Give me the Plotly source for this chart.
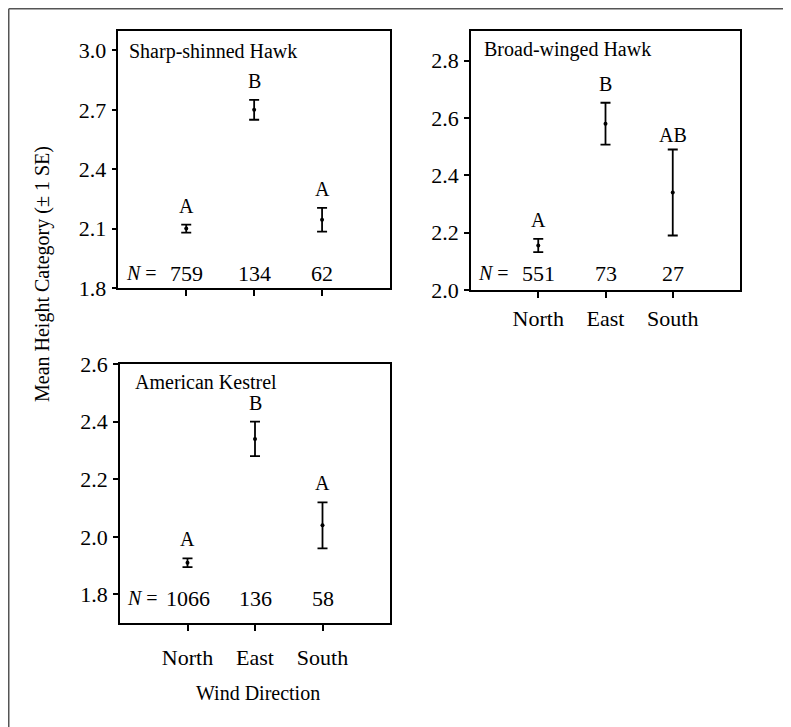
import plotly.graph_objects as go

# ---------------- data ----------------
directions = ["North", "East", "South"]

species = ["Sharp-shinned Hawk", "Broad-winged Hawk", "American Kestrel"]

ssh_mean = [2.10, 2.70, 2.145]
ssh_se = [0.02, 0.05, 0.06]
ssh_n = [759, 134, 62]
ssh_letters = ["A", "B", "A"]

bwh_mean = [2.155, 2.58, 2.34]
bwh_se = [0.023, 0.073, 0.15]
bwh_n = [551, 73, 27]
bwh_letters = ["A", "B", "AB"]

ak_mean = [1.91, 2.34, 2.04]
ak_se = [0.015, 0.06, 0.08]
ak_n = [1066, 136, 58]
ak_letters = ["A", "B", "A"]

ssh_ticks = [1.8, 2.1, 2.4, 2.7, 3.0]
bwh_ticks = [2.0, 2.2, 2.4, 2.6, 2.8]
ak_ticks = [1.8, 2.0, 2.2, 2.4, 2.6]

# ---------------- layout / style ----------------
W, H = 791, 727
OFF = 8  # page body margin
FONT = "Liberation Serif"
FS = 20
FS_NUM = 22


def fx(p):
    return (p - OFF) / W


def fy(p):
    return 1 - (p - OFF) / H


def px_x(a, b):
    return [fx(a), fx(b)]


def px_y(top, bottom):
    return [fy(bottom), fy(top)]


panels = [
    dict(name=species[0], mean=ssh_mean, se=ssh_se, n=ssh_n, letters=ssh_letters,
         ticks=ssh_ticks, yrange=[1.8, 3.1], xdom=px_x(118.3, 390), ydom=px_y(30.7, 288),
         xlabels=False, nrow=0.057, title_pos=(0.031, 0.918), standoff=2),
    dict(name=species[1], mean=bwh_mean, se=bwh_se, n=bwh_n, letters=bwh_letters,
         ticks=bwh_ticks, yrange=[2.0, 2.905], xdom=px_x(471, 740), ydom=px_y(30.5, 290),
         xlabels=True, nrow=0.064, title_pos=(0.04, 0.925), standoff=2),
    dict(name=species[2], mean=ak_mean, se=ak_se, n=ak_n, letters=ak_letters,
         ticks=ak_ticks, yrange=[1.7, 2.6], xdom=px_x(120, 390), ydom=px_y(364, 623.3),
         xlabels=True, nrow=0.096, title_pos=(0.047, 0.932), standoff=8),
]

fig = go.Figure()
annotations = []
layout_axes = {}
xpos = list(range(len(directions)))

for i, p in enumerate(panels):
    suffix = "" if i == 0 else str(i + 1)
    xa, ya = "x" + suffix, "y" + suffix
    fig.add_trace(go.Scatter(
        x=xpos, y=p["mean"], mode="markers",
        marker=dict(color="black", size=4),
        error_y=dict(type="data", array=p["se"], visible=True,
                     color="black", thickness=1.8, width=5),
        xaxis=xa, yaxis=ya, showlegend=False, hoverinfo="skip",
    ))
    layout_axes["xaxis" + suffix] = dict(
        domain=p["xdom"], anchor=ya, range=[-1, 3], automargin=False,
        tickvals=xpos, ticktext=directions, showticklabels=p["xlabels"],
        ticks="outside", ticklen=6, tickwidth=1.5, tickcolor="black",
        showline=True, linecolor="black", linewidth=1.5, mirror=True,
        showgrid=False, zeroline=False, ticklabelstandoff=p["standoff"],
        tickfont=dict(family=FONT, size=FS_NUM, color="black"),
    )
    layout_axes["yaxis" + suffix] = dict(
        domain=p["ydom"], anchor=xa, range=p["yrange"], automargin=False,
        tickvals=p["ticks"], tickformat=".1f",
        ticks="outside", ticklen=5, tickwidth=1.5, tickcolor="black",
        showline=True, linecolor="black", linewidth=1.5, mirror=True,
        showgrid=False, zeroline=False, ticklabelstandoff=1,
        tickfont=dict(family=FONT, size=FS_NUM, color="black"),
    )
    # panel title
    annotations.append(dict(
        text=p["name"], xref=xa + " domain", yref=ya + " domain",
        x=p["title_pos"][0], y=p["title_pos"][1], xanchor="left", yanchor="middle",
        showarrow=False, font=dict(family=FONT, size=FS, color="black")))
    # significance letters
    for xi, m, s, lab in zip(xpos, p["mean"], p["se"], p["letters"]):
        annotations.append(dict(
            text=lab, x=xi, y=m + s, xref=xa, yref=ya, yanchor="middle",
            yshift=15 if len(lab) > 1 else 19,
            showarrow=False, font=dict(family=FONT, size=FS, color="black")))
    # sample sizes
    annotations.append(dict(
        text="<i>N</i> =", x=-0.92, y=p["nrow"], xref=xa, yref=ya + " domain",
        xanchor="left", yanchor="middle", showarrow=False,
        font=dict(family=FONT, size=FS, color="black")))
    for xi, nv in zip(xpos, p["n"]):
        annotations.append(dict(
            text=str(nv), x=xi, y=p["nrow"], xref=xa, yref=ya + " domain",
            xanchor="center", yanchor="middle", showarrow=False,
            font=dict(family=FONT, size=FS_NUM, color="black")))

# axis titles
annotations.append(dict(
    text="Mean Height Category (± 1 SE)", x=fx(43), y=fy(274),
    xref="paper", yref="paper", textangle=-90, showarrow=False,
    xanchor="center", yanchor="middle", font=dict(family=FONT, size=FS, color="black")))
annotations.append(dict(
    text="Wind Direction", x=fx(258.5), y=fy(693),
    xref="paper", yref="paper", showarrow=False,
    xanchor="center", yanchor="middle", font=dict(family=FONT, size=FS, color="black")))

# outer frame of the figure (top and left edges visible)
bx, by = fx(OFF + 0.75), fy(OFF + 0.75)
shapes = [
    dict(type="line", xref="paper", yref="paper", x0=bx, x1=1, y0=by, y1=by,
         line=dict(color="#555555", width=1.5)),
    dict(type="line", xref="paper", yref="paper", x0=bx, x1=bx, y0=0, y1=by,
         line=dict(color="#555555", width=1.5)),
]

fig.update_layout(
    width=W, height=H, margin=dict(l=0, r=0, t=0, b=0, autoexpand=False),
    paper_bgcolor="white", plot_bgcolor="white",
    font=dict(family=FONT, size=FS, color="black"),
    annotations=annotations, shapes=shapes, showlegend=False,
    **layout_axes,
)

fig.write_html("out.html")
